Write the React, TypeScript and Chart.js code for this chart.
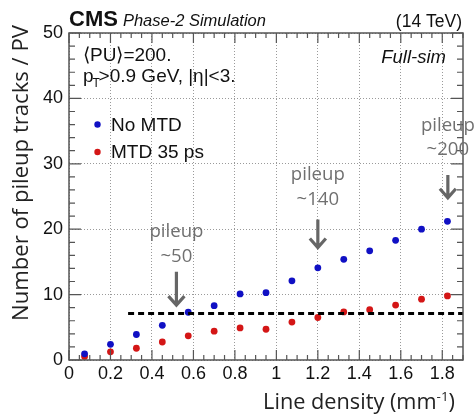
import React, { useEffect, useRef } from 'react';
import { Chart, registerables } from 'chart.js';

Chart.register(...registerables);

// ---- data ----
const lineDensity = [0.075, 0.2, 0.325, 0.45, 0.575, 0.7, 0.825, 0.95, 1.075, 1.2, 1.325, 1.45, 1.575, 1.7, 1.825];
const noMtd = [0.95, 2.4, 3.9, 5.3, 7.3, 8.3, 10.1, 10.3, 12.1, 14.1, 15.4, 16.7, 18.3, 20.0, 21.2];
const mtd35ps = [0.55, 1.25, 1.8, 2.75, 3.7, 4.4, 4.9, 4.7, 5.8, 6.5, 7.35, 7.7, 8.4, 9.3, 9.8];
const xTicks = [0, 0.2, 0.4, 0.6, 0.8, 1, 1.2, 1.4, 1.6, 1.8];
const yTicks = [0, 10, 20, 30, 40, 50];
const thresholdY = 7.1;
const thresholdX = [0.285, 1.9];
const pileupLabels = ['~50', '~140', '~200'];
const pileupX = [0.518, 1.2, 1.827];
const pileupTextY = [19.6, 28.3, 35.8];
const pileupSubY = [15.8, 24.5, 32.1];
const arrowTop = [13.5, 21.5, 28.3];
const arrowTip = [8.4, 17.2, 24.8];

const HELV = '"Liberation Sans", Arial, Helvetica, sans-serif';
const SANS = '"Open Sans", Lato, sans-serif';
const BLUE = '#1010c4';
const RED = '#d41616';

function fitSize(ctx: CanvasRenderingContext2D, text: string, family: string, target: number) {
  ctx.font = `20px ${family}`;
  const w = ctx.measureText(text).width;
  return (20 * target) / w;
}

const overlay = {
  id: 'overlay',
  afterDraw(chart: any) {
    const ctx = chart.ctx as CanvasRenderingContext2D;
    const { left, right, top, bottom } = chart.chartArea;
    const xs = chart.scales.x;
    const ys = chart.scales.y;
    ctx.save();

    // frame
    ctx.strokeStyle = '#555';
    ctx.lineWidth = 1.5;
    ctx.strokeRect(left, top, right - left, bottom - top);

    // inward ticks
    ctx.lineWidth = 1.2;
    ctx.beginPath();
    for (let v = 0; v <= 50.001; v += 2) {
      const y = ys.getPixelForValue(v);
      const len = Math.abs(v % 10) < 0.001 ? 12 : 6;
      ctx.moveTo(left, y); ctx.lineTo(left + len, y);
      ctx.moveTo(right, y); ctx.lineTo(right - len, y);
    }
    for (let i = 0; i <= 38; i++) {
      const v = i * 0.05;
      const x = xs.getPixelForValue(v);
      const len = i % 4 === 0 ? 10 : 5;
      ctx.moveTo(x, bottom); ctx.lineTo(x, bottom - len);
      ctx.moveTo(x, top); ctx.lineTo(x, top + len);
    }
    ctx.stroke();

    // header
    ctx.fillStyle = '#111';
    ctx.textBaseline = 'alphabetic';
    ctx.textAlign = 'left';
    ctx.font = `bold 22px ${HELV}`;
    ctx.fillText('CMS', 69, 26);
    const cmsW = ctx.measureText('CMS').width;
    ctx.font = `italic 16.5px ${HELV}`;
    ctx.fillText('Phase-2 Simulation', 69 + cmsW + 5, 26);
    ctx.textAlign = 'right';
    ctx.font = `17.5px ${HELV}`;
    ctx.fillText('(14 TeV)', 462, 27);
    ctx.font = `italic 18.5px ${HELV}`;
    ctx.fillText('Full-sim', 446, 63);

    // info text
    ctx.textAlign = 'left';
    ctx.font = `19px ${HELV}`;
    ctx.fillText('\u27E8PU\u27E9=200.', 83, 61);
    ctx.fillText('p', 83, 82);
    const pW = ctx.measureText('p').width;
    ctx.font = `12px ${HELV}`;
    ctx.fillText('T', 83 + pW - 1, 87);
    ctx.font = `19px ${HELV}`;
    ctx.fillText('>0.9 GeV, |\u03B7|<3.', 83 + pW + 5, 82);

    // legend
    const legend = [
      { label: 'No MTD', color: BLUE, y: 124.5 },
      { label: 'MTD 35 ps', color: RED, y: 152 },
    ];
    ctx.textBaseline = 'middle';
    ctx.font = `19px ${HELV}`;
    legend.forEach((l) => {
      ctx.fillStyle = l.color;
      ctx.beginPath();
      ctx.arc(97.5, l.y, 3.2, 0, Math.PI * 2);
      ctx.fill();
      ctx.fillStyle = '#111';
      ctx.fillText(l.label, 111, l.y + 1);
    });

    // pileup annotations
    ctx.textAlign = 'center';
    const annSize = fitSize(ctx, 'pileup', SANS, 54);
    ctx.font = `${annSize}px ${SANS}`;
    ctx.fillStyle = '#707070';
    ctx.strokeStyle = '#666';
    ctx.lineWidth = 3.2;
    pileupLabels.forEach((lab, i) => {
      const x = xs.getPixelForValue(pileupX[i]);
      ctx.fillText('pileup', x, ys.getPixelForValue(pileupTextY[i]));
      ctx.fillText(lab, x, ys.getPixelForValue(pileupSubY[i]));
      const y0 = ys.getPixelForValue(arrowTop[i]);
      const y1 = ys.getPixelForValue(arrowTip[i]);
      ctx.beginPath();
      ctx.moveTo(x, y0); ctx.lineTo(x, y1 - 1);
      ctx.moveTo(x - 8, y1 - 9); ctx.lineTo(x, y1); ctx.lineTo(x + 8, y1 - 9);
      ctx.stroke();
    });

    // axis titles
    ctx.fillStyle = '#222';
    const yTitle = 'Number of pileup tracks / PV';
    const ySize = fitSize(ctx, yTitle, SANS, 296);
    ctx.font = `${ySize}px ${SANS}`;
    ctx.save();
    ctx.translate(22, 173);
    ctx.rotate(-Math.PI / 2);
    ctx.textAlign = 'center';
    ctx.textBaseline = 'middle';
    ctx.fillText(yTitle, 0, 0);
    ctx.restore();

    ctx.textAlign = 'left';
    ctx.textBaseline = 'alphabetic';
    const main = 'Line density (mm';
    const sup = '-1';
    const xSize = fitSize(ctx, main + ')', SANS, 180);
    const supSize = xSize * 0.62;
    ctx.font = `${xSize}px ${SANS}`;
    const mW = ctx.measureText(main).width;
    const cW = ctx.measureText(')').width;
    ctx.font = `${supSize}px ${SANS}`;
    const sW = ctx.measureText(sup).width;
    const startX = 455 - (mW + sW + cW);
    ctx.font = `${xSize}px ${SANS}`;
    ctx.fillText(main, startX, 409);
    ctx.font = `${supSize}px ${SANS}`;
    ctx.fillText(sup, startX + mW, 401);
    ctx.font = `${xSize}px ${SANS}`;
    ctx.fillText(')', startX + mW + sW, 409);

    ctx.restore();
  },
};

export default function App() {
  const ref = useRef<HTMLCanvasElement>(null);
  useEffect(() => {
    document.body.style.margin = '0';
    const canvas = ref.current;
    if (!canvas) return;
    const chart = new Chart(canvas, {
      type: 'scatter',
      data: {
        datasets: [
          {
            label: 'threshold',
            type: 'line',
            data: thresholdX.map((x) => ({ x, y: thresholdY })),
            borderColor: '#000',
            borderWidth: 3,
            borderDash: [6, 4],
            pointRadius: 0,
            fill: false,
            order: 0,
          } as any,
          {
            label: 'No MTD',
            data: lineDensity.map((x, i) => ({ x, y: noMtd[i] })),
            backgroundColor: BLUE,
            borderColor: BLUE,
            pointRadius: 3.4,
            pointBorderWidth: 0,
            order: 1,
          },
          {
            label: 'MTD 35 ps',
            data: lineDensity.map((x, i) => ({ x, y: mtd35ps[i] })),
            backgroundColor: RED,
            borderColor: RED,
            pointRadius: 3.4,
            pointBorderWidth: 0,
            order: 1,
          },
        ],
      },
      options: {
        animation: false,
        responsive: false,
        layout: { padding: { top: 33, right: 13, left: 0, bottom: 0 } },
        plugins: { legend: { display: false }, tooltip: { enabled: false }, title: { display: false } },
        scales: {
          x: {
            type: 'linear',
            min: 0,
            max: 1.9,
            afterFit: (s: any) => { s.height = 55; },
            afterBuildTicks: (s: any) => { s.ticks = xTicks.map((v) => ({ value: v })); },
            ticks: {
              autoSkip: false,
              maxRotation: 0,
              padding: 3,
              color: '#111',
              font: { family: HELV, size: 18 },
              callback: (v: any) => String(Math.round(Number(v) * 10) / 10),
            },
            grid: { color: '#9a9a9a', lineWidth: 1, drawTicks: false },
            border: { display: false, dash: [1, 2] },
          },
          y: {
            type: 'linear',
            min: 0,
            max: 50,
            afterFit: (s: any) => { s.width = 69; },
            afterBuildTicks: (s: any) => { s.ticks = yTicks.map((v) => ({ value: v })); },
            ticks: {
              autoSkip: false,
              padding: 6,
              color: '#111',
              font: { family: HELV, size: 18 },
              callback: (v: any) => String(v),
            },
            grid: { color: '#9a9a9a', lineWidth: 1, drawTicks: false },
            border: { display: false, dash: [1, 2] },
          },
        },
      },
      plugins: [overlay],
    });
    return () => chart.destroy();
  }, []);
  return (
    <div style={{ width: 476, height: 415, background: '#fff' }}>
      <canvas ref={ref} width={476} height={415} style={{ display: 'block' }} />
    </div>
  );
}
